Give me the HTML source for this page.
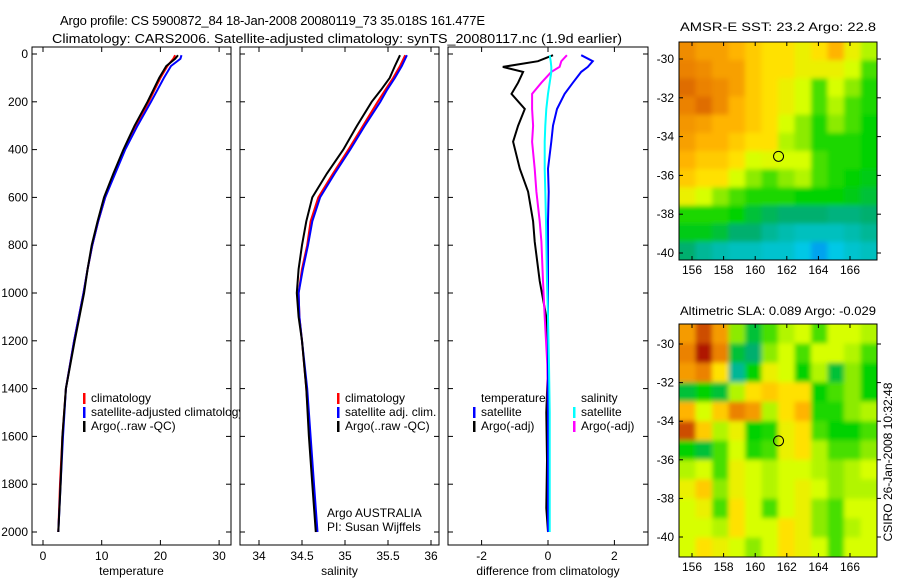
<!DOCTYPE html>
<html><head><meta charset="utf-8">
<style>
body{margin:0;background:#fff;}
svg{display:block;font-family:"Liberation Sans",sans-serif;}
text{font-size:12px;fill:#000;}
</style></head>
<body>
<svg id="fig" width="900" height="580" viewBox="0 0 900 580">
<defs>
<filter id="smooth" x="-5%" y="-5%" width="110%" height="110%"><feGaussianBlur stdDeviation="2.5"/></filter>
<clipPath id="clip1"><rect x="679" y="42" width="198" height="218"/></clipPath>
<clipPath id="clip2"><rect x="679" y="324" width="198" height="233"/></clipPath>
</defs>
<text x="60" y="25" textLength="425" lengthAdjust="spacing" style="font-size:13px">Argo profile: CS 5900872_84 18-Jan-2008 20080119_73 35.018S 161.477E</text>
<text x="52" y="43" textLength="570" lengthAdjust="spacingAndGlyphs" style="font-size:13px">Climatology: CARS2006. Satellite-adjusted climatology: synTS_20080117.nc (1.9d earlier)</text>
<text x="680" y="31" textLength="196" lengthAdjust="spacingAndGlyphs">AMSR-E SST: 23.2 Argo: 22.8</text>
<text x="680" y="315" textLength="196" lengthAdjust="spacingAndGlyphs">Altimetric SLA: 0.089 Argo: -0.029</text>
<text transform="translate(892,462) rotate(-90)" text-anchor="middle">CSIRO 26-Jan-2008 10:32:48</text>
<g id="plots"></g>
</svg>
<script>
// ---- data ----
const depths = [5,20,50,100,150,200,300,400,500,600,700,800,900,1000,1100,1200,1400,1600,1800,2000];
const tempArgo = [23,22.5,21,19.8,18.8,17.8,15.6,13.7,12.0,10.4,9.3,8.3,7.6,7.0,6.2,5.4,3.9,3.3,3.0,2.6];
const tempClim = [22.5,22.2,21.2,20.0,19.0,18.0,15.8,13.9,12.2,10.6,9.4,8.4,7.6,6.9,6.1,5.3,3.9,3.3,2.9,2.6];
const tempSat  = [23.6,23.4,21.8,20.6,19.5,18.4,16.1,14.0,12.3,10.6,9.4,8.4,7.6,6.9,6.1,5.3,3.9,3.4,3.0,2.6];
const salArgo = [35.64,35.62,35.58,35.52,35.42,35.31,35.14,34.98,34.79,34.62,34.55,34.5,34.46,34.44,34.46,34.5,34.55,34.58,34.62,34.66];
const salClim = [35.70,35.68,35.64,35.56,35.47,35.38,35.21,35.04,34.86,34.69,34.60,34.56,34.50,34.46,34.47,34.5,34.55,34.59,34.63,34.67];
const salSat  = [35.72,35.70,35.66,35.58,35.49,35.41,35.23,35.06,34.88,34.71,34.62,34.57,34.51,34.46,34.47,34.5,34.56,34.60,34.64,34.68];
const diffDepths = [5,30,54,75,120,167,230,300,367,480,576,700,785,950,1100,1300,1500,1700,1900,2000];
const diffTempArgo = [0.15,-0.3,-1.36,-0.75,-0.9,-1.1,-0.7,-0.9,-1.05,-0.85,-0.6,-0.45,-0.4,-0.25,-0.05,0,-0.05,-0.03,-0.05,0];
const diffTempSat  = [1.0,1.35,1.2,1.0,0.75,0.5,0.27,0.15,0.1,0,0.02,0,0,0,0,0,0,0,0,0];
const diffSalArgo  = [0.57,0.4,0.35,0.1,-0.2,-0.48,-0.48,-0.45,-0.48,-0.4,-0.35,-0.25,-0.2,-0.15,-0.1,-0.02,0,0.02,0,0];
const diffSalSat   = [0.05,0.08,0.1,0.1,0.05,0,-0.05,-0.08,-0.1,-0.1,-0.08,-0.06,-0.05,-0.03,0,0.03,0.05,0.05,0.05,0.05];
const depthTicks = [0,200,400,600,800,1000,1200,1400,1600,1800,2000];
const tempTicks = [0,10,20,30];
const salTicks = [34,34.5,35,35.5,36];
const diffTicks = [-2,0,2];
const lonTicks = [156,158,160,162,164,166];
const latTicks = [-30,-32,-34,-36,-38,-40];
const sstGrid = [
[0.88,0.84,0.84,0.8,0.75,0.7,0.7,0.65,0.7,0.8,0.65,0.55],
[0.9,0.88,0.84,0.84,0.75,0.7,0.7,0.65,0.65,0.65,0.6,0.45],
[0.92,0.9,0.88,0.84,0.75,0.7,0.65,0.6,0.45,0.6,0.5,0.42],
[0.9,0.92,0.88,0.8,0.75,0.7,0.65,0.6,0.45,0.55,0.45,0.42],
[0.86,0.84,0.8,0.8,0.75,0.7,0.6,0.5,0.42,0.5,0.45,0.4],
[0.84,0.8,0.8,0.75,0.7,0.7,0.55,0.5,0.42,0.42,0.42,0.4],
[0.8,0.75,0.75,0.7,0.6,0.62,0.6,0.6,0.45,0.42,0.42,0.4],
[0.75,0.7,0.7,0.6,0.5,0.45,0.5,0.55,0.45,0.42,0.4,0.38],
[0.65,0.6,0.5,0.45,0.42,0.42,0.42,0.4,0.4,0.4,0.38,0.35],
[0.42,0.42,0.42,0.4,0.35,0.32,0.3,0.3,0.3,0.28,0.28,0.3],
[0.38,0.38,0.35,0.3,0.3,0.25,0.22,0.2,0.2,0.2,0.22,0.25],
[0.3,0.25,0.22,0.2,0.2,0.18,0.18,0.15,0.1,0.15,0.18,0.2]];
const slaGrid = [
[0.85,0.95,0.85,0.5,0.35,0.45,0.55,0.6,0.45,0.6,0.6,0.55],
[0.9,1.0,0.9,0.35,0.3,0.5,0.6,0.45,0.6,0.6,0.55,0.45],
[0.85,0.9,0.7,0.25,0.4,0.65,0.6,0.4,0.55,0.35,0.5,0.4],
[0.35,0.4,0.35,0.55,0.7,0.75,0.7,0.7,0.4,0.45,0.5,0.4],
[0.8,0.6,0.75,0.9,0.85,0.55,0.7,0.8,0.42,0.42,0.5,0.55],
[0.95,0.75,0.55,0.65,0.4,0.42,0.65,0.7,0.45,0.4,0.4,0.45],
[0.4,0.35,0.45,0.6,0.42,0.45,0.65,0.7,0.55,0.45,0.45,0.5],
[0.55,0.6,0.45,0.65,0.6,0.55,0.6,0.6,0.55,0.5,0.55,0.6],
[0.65,0.75,0.5,0.65,0.6,0.55,0.6,0.65,0.6,0.5,0.55,0.55],
[0.6,0.65,0.45,0.7,0.6,0.45,0.6,0.65,0.5,0.45,0.6,0.6],
[0.6,0.6,0.55,0.7,0.6,0.6,0.7,0.65,0.5,0.45,0.55,0.6],
[0.6,0.7,0.65,0.6,0.5,0.6,0.7,0.65,0.6,0.45,0.6,0.6]];
const argoLon = [161.477];
const argoLat = [-35.018];

// ---- drawing ----
const NS="http://www.w3.org/2000/svg";
const root=document.getElementById('plots');
function mk(tag,attrs,parent){const e=document.createElementNS(NS,tag);for(const k in attrs)e.setAttribute(k,attrs[k]);(parent||root).appendChild(e);return e;}
const yTop=47,yBot=545;
const yD=d=>54+d*0.239;
function panel(x0,x1,xfun,ticks,label,name,showY){
  const g=mk('g',{});
  
  
  const r=mk('rect',{x:x0,y:yTop,width:x1-x0,height:yBot-yTop,fill:'#fff',stroke:'#000','stroke-width':1},g);
  
  
  ticks.forEach(t=>{const x=xfun(t);
    mk('line',{x1:x,x2:x,y1:yBot,y2:yBot-5,stroke:'#000'},g);
    mk('line',{x1:x,x2:x,y1:yTop,y2:yTop+5,stroke:'#000'},g);
    const tx=mk('text',{x:x,y:yBot+15,'text-anchor':'middle'},g);tx.textContent=t;
    
    
  });
  depthTicks.forEach(d=>{const y=yD(d);
    mk('line',{x1:x0,x2:x0+5,y1:y,y2:y,stroke:'#000'},g);
    mk('line',{x1:x1,x2:x1-5,y1:y,y2:y,stroke:'#000'},g);
    if(showY){const tx=mk('text',{x:x0-4,y:y+4,'text-anchor':'end'},g);tx.textContent=d;
      
      }
  });
  const lt=mk('text',{x:(x0+x1)/2,y:575,'text-anchor':'middle'},g);lt.textContent=label;
  
  
  return g;
}
function line(g,xs,ds,xfun,color,name,w){
  const pts=xs.map((v,i)=>xfun(v).toFixed(1)+','+yD(ds[i]).toFixed(1)).join(' ');
  const p=mk('polyline',{points:pts,fill:'none',stroke:color,'stroke-width':w||2},g);
  
  
}
function legend(g,x,y,color,txt){
  mk('rect',{x:x,y:y-9,width:2.5,height:11,fill:color},g);
  const t=mk('text',{x:x+8,y:y},g);t.textContent=txt;
  
  
}
// temperature
const xT=v=>43+v*5.87;
const g1=panel(32,231,xT,tempTicks,'temperature','temperature-panel',true);
line(g1,tempClim,depths,xT,'#f00','temp-climatology-line');
line(g1,tempSat,depths,xT,'#00f','temp-satellite-line');
line(g1,tempArgo,depths,xT,'#000','temp-argo-line');
legend(g1,83,402,'#f00','climatology');
legend(g1,83,416,'#00f','satellite-adjusted climatology');
legend(g1,83,430,'#000','Argo(..raw -QC)');
// salinity
const xS=v=>259+(v-34)*86;
const g2=panel(240,439,xS,salTicks,'salinity','salinity-panel',false);
line(g2,salClim,depths,xS,'#f00','sal-climatology-line');
line(g2,salSat,depths,xS,'#00f','sal-satellite-line');
line(g2,salArgo,depths,xS,'#000','sal-argo-line');
legend(g2,337,402,'#f00','climatology');
legend(g2,337,416,'#00f','satellite adj. clim.');
legend(g2,337,430,'#000','Argo(..raw -QC)');
const a1=mk('text',{x:327,y:517},g2);a1.textContent='Argo AUSTRALIA';


const a2=mk('text',{x:327,y:531},g2);a2.textContent='PI: Susan Wijffels';


// difference
const xDf=v=>548+v*33.2;
const g3=panel(448,648,xDf,diffTicks,'difference from climatology','difference-panel',false);
line(g3,diffTempArgo,diffDepths,xDf,'#000','diff-temp-argo-line');
line(g3,diffSalArgo,diffDepths,xDf,'#f0f','diff-sal-argo-line');
line(g3,diffTempSat,diffDepths,xDf,'#00f','diff-temp-satellite-line');
line(g3,diffSalSat,diffDepths,xDf,'#0ff','diff-sal-satellite-line');
const th=mk('text',{x:481,y:402},g3);th.textContent='temperature';


const sh=mk('text',{x:581,y:402},g3);sh.textContent='salinity';


legend(g3,473,416,'#00f','satellite');
legend(g3,473,430,'#000','Argo(-adj)');
legend(g3,573,416,'#0ff','satellite');
legend(g3,573,430,'#f0f','Argo(-adj)');
// maps
const stops=[[0,[0,90,255]],[0.15,[0,200,230]],[0.3,[0,175,110]],[0.4,[0,210,0]],[0.5,[140,235,0]],[0.6,[215,255,0]],[0.7,[255,225,0]],[0.8,[255,180,0]],[0.9,[235,130,0]],[1,[175,25,0]]];
function cmap(v){for(let i=1;i<stops.length;i++){if(v<=stops[i][0]){const a=stops[i-1],b=stops[i];const t=(v-a[0])/(b[0]-a[0]);const c=a[1].map((q,k)=>Math.round(q+(b[1][k]-q)*t));return 'rgb('+c.join(',')+')';}}return 'rgb(175,25,0)';}
function map(grid,x0,x1,y0,y1,lat30y,latStep,name,clip){
  const g=mk('g',{});
  
  
  const cg=mk('g',{'clip-path':'url(#'+clip+')'},g);
  const bg=mk('g',{filter:'url(#smooth)'},cg);
  const rows=grid.length,cols=grid[0].length,cw=(x1-x0)/cols,ch=(y1-y0)/rows;
  grid.forEach((row,i)=>row.forEach((v,j)=>{
    let x=x0+j*cw,y=y0+i*ch,w=cw+0.6,h=ch+0.6;
    if(j==0){x-=10;w+=10;} if(j==cols-1){w+=10;}
    if(i==0){y-=10;h+=10;} if(i==rows-1){h+=10;}
    const c=mk('rect',{x:x,y:y,width:w,height:h,fill:cmap(v)},bg);
    
    
  }));
  mk('rect',{x:x0,y:y0,width:x1-x0,height:y1-y0,fill:'none',stroke:'#000'},g);
  const lonX=l=>692+(l-156)*15.8;
  const latY=l=>lat30y+(-30-l)*latStep/2;
  lonTicks.forEach(l=>{const x=lonX(l);
    mk('line',{x1:x,x2:x,y1:y0,y2:y0+4,stroke:'#000'},g);
    mk('line',{x1:x,x2:x,y1:y1,y2:y1-4,stroke:'#000'},g);
    const t=mk('text',{x:x,y:y1+14,'text-anchor':'middle'},g);t.textContent=l;
    
    
  });
  latTicks.forEach(l=>{const y=latY(l);
    mk('line',{x1:x1,x2:x1+4,y1:y,y2:y,stroke:'#000'},g);
    mk('line',{x1:x0,x2:x0+4,y1:y,y2:y,stroke:'#000'},g);
    const t=mk('text',{x:x0-5,y:y+4,'text-anchor':'end'},g);t.textContent=l;
    
    
  });
  const ci=mk('circle',{cx:lonX(argoLon[0]),cy:latY(argoLat[0]),r:5,fill:'none',stroke:'#000','stroke-width':1},g);
  
  
}
map(sstGrid,679,877,42,260,59,38.8,'sst-map','clip1');
map(slaGrid,679,877,324,557,344,38.6,'sla-map','clip2');
</script>
</body></html>
